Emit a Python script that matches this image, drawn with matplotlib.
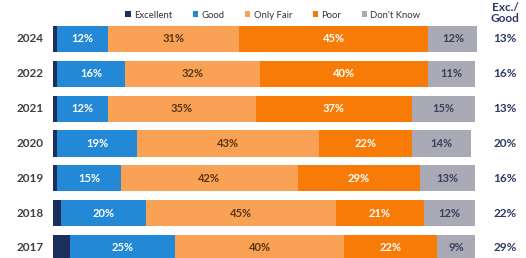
import matplotlib
matplotlib.use("Agg")
import matplotlib.pyplot as plt
from matplotlib.patches import Patch
import numpy as np

years = ["2024", "2022", "2021", "2020", "2019", "2018", "2017"]
excellent = [1, 1, 1, 1, 1, 2, 4]
good = [12, 16, 12, 19, 15, 20, 25]
only_fair = [31, 32, 35, 43, 42, 45, 40]
poor = [45, 40, 37, 22, 29, 21, 22]
dont_know = [12, 11, 15, 14, 13, 12, 9]
exc_good = [13, 16, 13, 20, 16, 22, 29]
series_names = ["Excellent", "Good", "Only Fair", "Poor", "Don't Know"]

colors = ["#1c2f5c", "#2388d6", "#f9a155", "#f77b06", "#a9aab6"]
label_colors = [None, "white", "#5b3514", "white", "#3b3f5c"]
navy = "#2d3a66"

plt.rcParams['font.family'] = ['Lato', 'DejaVu Sans']

W, H = 526, 258
fig = plt.figure(figsize=(W / 100, H / 100), dpi=100)
spacing = 34.83
top_c = 39
ax = fig.add_axes([53 / W, 0, 424 / W, 1])
ax.set_xlim(0, 100.5)
ax.set_ylim((H - top_c) / spacing, -top_c / spacing)
ax.axis("off")

y = np.arange(len(years))
data = [excellent, good, only_fair, poor, dont_know]
left = np.zeros(len(years))
for k, vals in enumerate(data):
    vals = np.array(vals, dtype=float)
    ax.barh(y, vals, left=left, height=0.75, color=colors[k], edgecolor="none")
    if label_colors[k] is not None:
        for i, v in enumerate(vals):
            ax.text(left[i] + v / 2, y[i], f"{int(v)}%", ha="center", va="center",
                    fontsize=8, fontweight="bold", color=label_colors[k])
    left += vals

for i, yr in enumerate(years):
    fig.text(30 / W, 1 - (top_c + spacing * i) / H, yr, ha="center", va="center",
             fontsize=8.5, fontweight="bold", color="#404040")
    fig.text(505 / W, 1 - (top_c + spacing * i) / H, f"{exc_good[i]}%", ha="center",
             va="center", fontsize=8.5, fontweight="bold", color=navy)

fig.text(505 / W, 1 - 13 / H, "Exc./\nGood", ha="center", va="center", fontsize=8.5,
         fontweight="bold", color=navy, linespacing=1.0)

handles = [Patch(facecolor=c, edgecolor="none") for c in colors]
fig.legend(handles, series_names, loc="center", bbox_to_anchor=(273 / W, 1 - 15 / H),
           ncol=5, frameon=False, fontsize=6.8, handlelength=0.55, handleheight=0.55,
           handletextpad=0.35, columnspacing=2.2, labelcolor="#333333")

fig.savefig("out.png", dpi=100)
